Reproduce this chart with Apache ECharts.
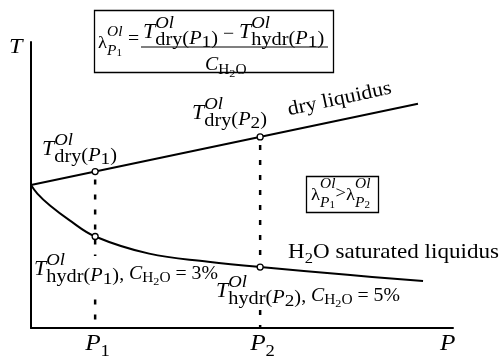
<!DOCTYPE html>
<html><head><meta charset="utf-8">
<script src="https://cdn.jsdelivr.net/npm/echarts@6/dist/echarts.min.js"></script>
<style>html,body{margin:0;padding:0;background:#fff}#c{width:503px;height:358px}</style>
</head><body><div id="c"></div>
<script>
// ---- data (arbitrary P / T units) ----
const dryP = [0, 91.7];
const dryT = [50, 78.4];
const hydrP = [0, 1.5, 4.5, 9, 15.2, 28, 42, 54.3, 75, 92.9];
const hydrT = [50, 47, 42.8, 37.8, 32, 26, 23.2, 21.3, 18.6, 16.4];
const pressures = [15.2, 54.3];
const pressureNames = ['1', '2'];
const dryAtP = [54.71, 66.82];
const hydrAtP = [32, 21.3];
const waterContent = ['3%', '5%'];

const FONT = '"Liberation Serif", "Times New Roman", serif';
const SX = 1.1;
const mctx = document.createElement('canvas').getContext('2d');
function fnt(s, it) { return (it ? 'italic ' : '') + s + 'px ' + FONT; }
function tw(t, s, it) { mctx.font = fnt(s, it); return mctx.measureText(t).width * SX; }
function txt(t, x, B, s, it, extra) {
  return Object.assign({ type: 'text', x: x, y: B - 0.34 * s, scaleX: SX, z: 100,
    style: { text: t, font: fnt(s, it), fill: '#000', align: 'left', verticalAlign: 'middle' } }, extra || {});
}
// flow layout: parts = {t,s,i,dy,gap} or {stack:[parts,parts]}
function flow(x0, B, parts, out) {
  let x = x0;
  for (const p of parts) {
    if (p.stack) {
      let mw = 0;
      for (const seq of p.stack) { mw = Math.max(mw, flow(x, B, seq, out)); }
      x += mw + (p.gap || 0);
    } else {
      out.push(txt(p.t, x, B + (p.dy || 0), p.s, p.i));
      x += tw(p.t, p.s, p.i) + (p.gap || 0);
    }
  }
  return x - x0;
}
function tLabel(sub, digit) {
  return [
    { t: 'T', s: 20, i: 1 },
    { stack: [[{ t: 'Ol', s: 17, i: 1, dy: -11 }], [{ t: sub, s: 18.5, dy: 6 }]] },
    { t: '(', s: 18.5, dy: 5 }, { t: 'P', s: 18.5, i: 1, dy: 5 }, { t: digit, s: 17.5, dy: 8 }, { t: ')', s: 18.5, dy: 5 }
  ];
}
function cH2O(pct) {
  return [
    { t: ', ', s: 18, dy: 4 }, { t: 'C', s: 18, i: 1, dy: 3 },
    { t: 'H', s: 14, dy: 6 }, { t: '2', s: 11, dy: 9 }, { t: 'O', s: 14, dy: 6 },
    { t: ' = ' + pct, s: 18, dy: 3 }
  ];
}
function lamP(d) {
  return [
    { t: 'λ', s: 17 },
    { stack: [[{ t: 'Ol', s: 14, i: 1, dy: -12 }], [{ t: 'P', s: 14, i: 1, dy: 7 }, { t: d, s: 10, dy: 8 }]] }
  ];
}

const chart = echarts.init(document.getElementById('c'));
const axisCommon = {
  type: 'value', min: 0, max: 100,
  axisLine: { show: true, lineStyle: { color: '#000', width: 2 } },
  axisTick: { show: false }, axisLabel: { show: false }, splitLine: { show: false }
};
const series = [
  { type: 'line', data: dryP.map((p, i) => [p, dryT[i]]), symbol: 'none', lineStyle: { color: '#000', width: 2 }, z: 3 },
  { type: 'line', data: hydrP.map((p, i) => [p, hydrT[i]]), smooth: 0.4, symbol: 'none', lineStyle: { color: '#000', width: 2 }, z: 3 }
];
pressures.forEach((p, i) => series.push({
  type: 'line', data: [[p, dryAtP[i]], [p, 0]], symbol: 'none', z: 2,
  lineStyle: { color: '#000', width: 2.5, type: [5, 10], dashOffset: -8 }
}));
series.push({
  type: 'scatter', symbolSize: 6, z: 5,
  data: pressures.map((p, i) => [p, dryAtP[i]]).concat(pressures.map((p, i) => [p, hydrAtP[i]])),
  itemStyle: { color: '#fff', borderColor: '#000', borderWidth: 1.3, opacity: 1 }
});
chart.setOption({
  animation: false,
  grid: { left: 31, right: 50, top: 42, bottom: 30 },
  xAxis: axisCommon, yAxis: Object.assign({}, axisCommon),
  series: series
});

// ---- annotations ----
const g = [];
// formula box
g.push({ type: 'rect', shape: { x: 94.5, y: 10.5, width: 239, height: 62 }, style: { fill: '#fff', stroke: '#000', lineWidth: 1.3 }, z: 90 });
flow(98, 49, lamP('1'), g);
g.push(txt('=', 128, 45, 18, 0));
const numW = flow(143, 40, tLabel('dry', '1').concat([{ t: ' − ', s: 18 }]).concat(tLabel('hydr', '1')), g);
g.push({ type: 'line', shape: { x1: 141, y1: 47, x2: Math.max(328, 143 + numW + 1), y2: 47 }, style: { stroke: '#000', lineWidth: 1.2 }, z: 100 });
flow(205, 71, [{ t: 'C', s: 18, i: 1 }, { t: 'H', s: 14, dy: 4 }, { t: '2', s: 11, dy: 7 }, { t: 'O', s: 14, dy: 4 }], g);

// lambda comparison box
g.push({ type: 'rect', shape: { x: 306.5, y: 176.5, width: 72, height: 36 }, style: { fill: '#fff', stroke: '#000', lineWidth: 1.3 }, z: 90 });
let lx = 311 + flow(311, 201, lamP('1'), g);
g.push(txt('>', lx, 199, 17, 0));
lx += tw('>', 17, 0);
flow(lx, 201, lamP('2'), g);

// curve labels
flow(42, 157, tLabel('dry', '1'), g);
flow(192, 121, tLabel('dry', '2'), g);
g.push(txt('dry liquidus', 288, 117, 20, 0, { rotation: 0.21 }));
flow(288, 260, [{ t: 'H', s: 21 }, { t: '2', s: 15, dy: 4 }, { t: 'O saturated liquidus', s: 21 }], g);

// hydr labels, with small white patches hiding the dashed guides behind them
pressures.forEach((p, i) => {
  const px = chart.convertToPixel({ xAxisIndex: 0 }, p);
  const top = i === 0 ? 256 : 280, h = i === 0 ? 34 : 26;
  g.push({ type: 'rect', shape: { x: px - 6, y: top, width: 12, height: h }, style: { fill: '#fff' }, z: 95 });
});
flow(34, 277, tLabel('hydr', '1').concat(cH2O(waterContent[0])), g);
flow(216, 299, tLabel('hydr', '2').concat(cH2O(waterContent[1])), g);

// axis names and P ticks
g.push(txt('T', 9, 55, 22, 1));
g.push(txt('P', 440, 352, 23, 1));
pressures.forEach((p, i) => {
  const px = chart.convertToPixel({ xAxisIndex: 0 }, p);
  flow(px - 10, 352, [{ t: 'P', s: 23, i: 1 }, { t: pressureNames[i], s: 17, dy: 5 }], g);
});
chart.setOption({ graphic: { elements: g } });
</script></body></html>
